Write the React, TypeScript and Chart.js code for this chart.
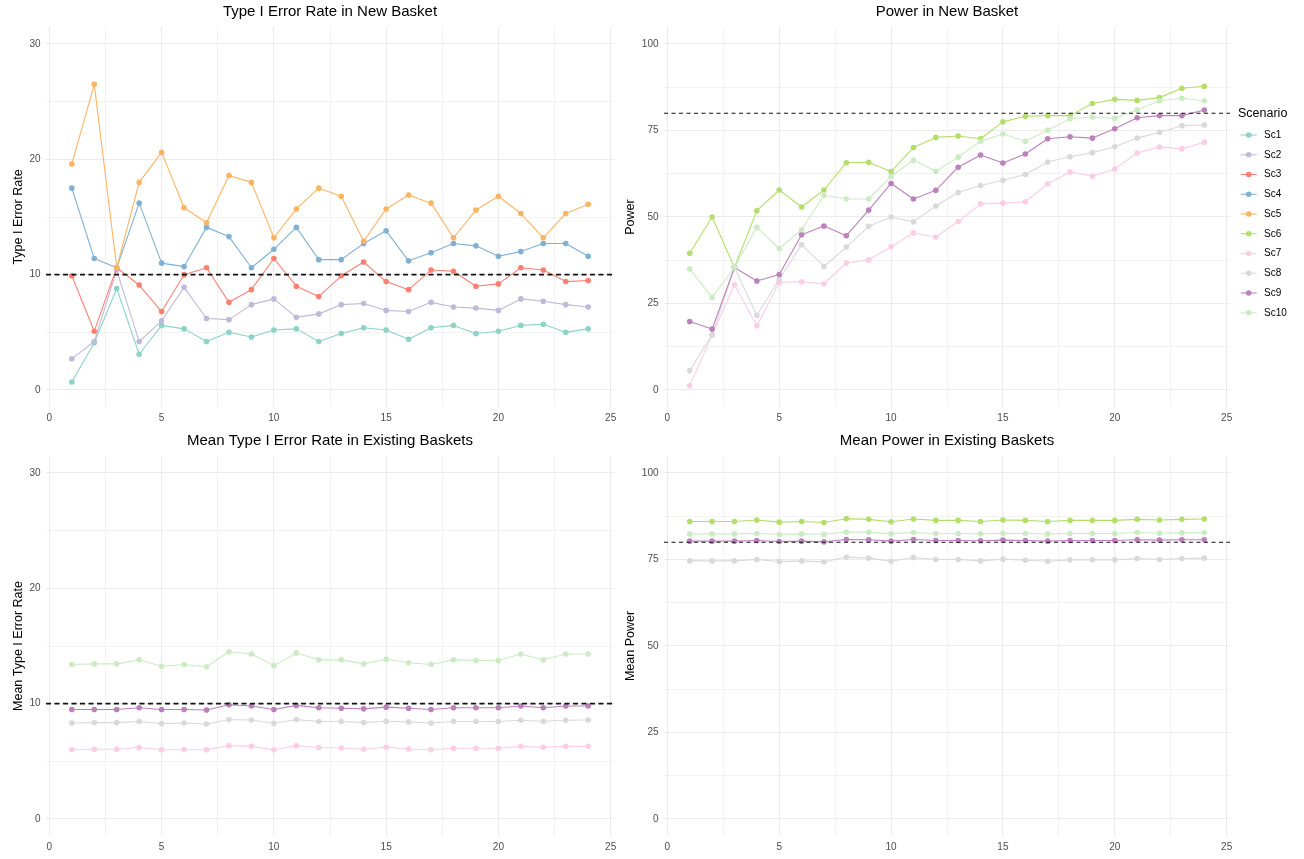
import React, { useEffect, useRef } from 'react';
import { Chart, registerables } from 'chart.js';

Chart.register(...registerables);

const FONT = "'Liberation Sans', Arial, Helvetica, sans-serif";

// ---------- data ----------
const X_VALUES = [1, 2, 3, 4, 5, 6, 7, 8, 9, 10, 11, 12, 13, 14, 15, 16, 17, 18, 19, 20, 21, 22, 23, 24];
const SCENARIOS = ['Sc1', 'Sc2', 'Sc3', 'Sc4', 'Sc5', 'Sc6', 'Sc7', 'Sc8', 'Sc9', 'Sc10'];
const COLORS = ['#8DD3C7', '#BEBADA', '#FB8072', '#80B1D3', '#FDB462', '#B3DE69', '#FCCDE5', '#D9D9D9', '#BC80BD', '#CCEBC5'];

const X_TICKS = [0, 2.5, 5, 7.5, 10, 12.5, 15, 17.5, 20, 22.5, 25];
const TYPE1_TICKS = [0, 5, 10, 15, 20, 25, 30];
const POWER_TICKS = [0, 12.5, 25, 37.5, 50, 62.5, 75, 87.5, 100];

const TYPE1_TARGET = 10;
const POWER_TARGET = 80;

// Type I error rate in new basket (Sc1..Sc5)
const T1_NEW_SC1 = [0.7, 4.1, 8.8, 3.1, 5.6, 5.3, 4.2, 5.0, 4.6, 5.2, 5.3, 4.2, 4.9, 5.4, 5.2, 4.4, 5.4, 5.6, 4.9, 5.1, 5.6, 5.7, 5.0, 5.3];
const T1_NEW_SC2 = [2.7, 4.2, 10.4, 4.2, 6.0, 8.9, 6.2, 6.1, 7.4, 7.9, 6.3, 6.6, 7.4, 7.5, 6.9, 6.8, 7.6, 7.2, 7.1, 6.9, 7.9, 7.7, 7.4, 7.2];
const T1_NEW_SC3 = [9.9, 5.1, 10.6, 9.1, 6.8, 10.0, 10.6, 7.6, 8.7, 11.4, 9.0, 8.1, 9.9, 11.1, 9.4, 8.7, 10.4, 10.3, 9.0, 9.2, 10.6, 10.4, 9.4, 9.5];
const T1_NEW_SC4 = [17.5, 11.4, 10.6, 16.2, 11.0, 10.7, 14.1, 13.3, 10.6, 12.2, 14.1, 11.3, 11.3, 12.7, 13.8, 11.2, 11.9, 12.7, 12.5, 11.6, 12.0, 12.7, 12.7, 11.6];
const T1_NEW_SC5 = [19.6, 26.5, 10.6, 18.0, 20.6, 15.8, 14.5, 18.6, 18.0, 13.2, 15.7, 17.5, 16.8, 12.9, 15.7, 16.9, 16.2, 13.2, 15.6, 16.8, 15.3, 13.2, 15.3, 16.1];

// Power in new basket (Sc6..Sc10)
const PW_NEW_SC6 = [39.5, 50.0, 35.4, 51.8, 57.8, 52.9, 57.8, 65.7, 65.8, 63.1, 70.1, 73.0, 73.4, 72.6, 77.5, 79.1, 79.3, 79.3, 82.8, 84.0, 83.7, 84.5, 87.2, 87.8];
const PW_NEW_SC7 = [1.2, 15.9, 30.4, 18.6, 31.1, 31.3, 30.7, 36.7, 37.6, 41.4, 45.4, 44.2, 48.7, 53.8, 54.0, 54.4, 59.6, 63.0, 61.8, 63.9, 68.5, 70.2, 69.7, 71.6];
const PW_NEW_SC8 = [5.6, 15.9, 35.4, 21.6, 32.0, 42.0, 35.7, 41.3, 47.3, 50.0, 48.6, 53.2, 57.1, 59.1, 60.6, 62.3, 65.9, 67.4, 68.6, 70.3, 72.8, 74.5, 76.4, 76.6];
const PW_NEW_SC9 = [19.8, 17.6, 35.4, 31.5, 33.4, 44.9, 47.4, 44.6, 52.0, 59.7, 55.2, 57.7, 64.4, 67.9, 65.6, 68.2, 72.6, 73.2, 72.8, 75.5, 78.7, 79.3, 79.3, 80.9];
const PW_NEW_SC10 = [35.0, 26.7, 35.4, 47.0, 40.9, 46.3, 56.3, 55.2, 55.2, 61.7, 66.4, 63.2, 67.3, 71.9, 74.0, 71.9, 75.1, 78.4, 78.9, 78.5, 80.9, 83.6, 84.3, 83.6];

// Mean type I error rate in existing baskets
const T1_EX_SC7 = [6.02, 6.05, 6.05, 6.2, 6.0, 6.02, 6.0, 6.36, 6.3, 6.0, 6.36, 6.2, 6.16, 6.05, 6.22, 6.07, 6.0, 6.13, 6.13, 6.13, 6.3, 6.22, 6.3, 6.3];
const T1_EX_SC8 = [8.33, 8.36, 8.36, 8.45, 8.27, 8.33, 8.24, 8.62, 8.59, 8.3, 8.62, 8.45, 8.45, 8.36, 8.48, 8.42, 8.33, 8.45, 8.45, 8.45, 8.56, 8.48, 8.56, 8.59];
const T1_EX_SC9 = [9.5, 9.5, 9.5, 9.65, 9.5, 9.5, 9.45, 9.9, 9.8, 9.5, 9.85, 9.65, 9.6, 9.55, 9.7, 9.6, 9.5, 9.65, 9.65, 9.65, 9.8, 9.65, 9.8, 9.8];
const T1_EX_SC10 = [13.4, 13.45, 13.45, 13.8, 13.25, 13.4, 13.2, 14.5, 14.3, 13.3, 14.4, 13.8, 13.8, 13.45, 13.85, 13.55, 13.4, 13.8, 13.75, 13.75, 14.3, 13.8, 14.3, 14.3];

// Mean power in existing baskets
const PW_EX_SC6 = [86.0, 86.0, 86.0, 86.4, 85.8, 86.0, 85.7, 86.8, 86.6, 85.9, 86.7, 86.3, 86.3, 86.0, 86.4, 86.3, 86.0, 86.3, 86.3, 86.3, 86.6, 86.4, 86.6, 86.7];
const PW_EX_SC8 = [74.6, 74.6, 74.6, 75.0, 74.4, 74.6, 74.3, 75.7, 75.4, 74.5, 75.6, 75.0, 75.0, 74.6, 75.1, 74.8, 74.5, 74.9, 74.9, 74.9, 75.3, 75.0, 75.3, 75.4];
const PW_EX_SC9 = [80.3, 80.3, 80.3, 80.5, 80.2, 80.3, 80.1, 80.8, 80.7, 80.3, 80.8, 80.5, 80.5, 80.4, 80.6, 80.5, 80.3, 80.5, 80.5, 80.5, 80.7, 80.6, 80.7, 80.7];
const PW_EX_SC10 = [82.4, 82.4, 82.4, 82.5, 82.3, 82.4, 82.3, 82.9, 82.9, 82.4, 82.8, 82.5, 82.5, 82.4, 82.6, 82.5, 82.4, 82.5, 82.5, 82.5, 82.8, 82.6, 82.7, 82.8];

// ---------- panels ----------
type Series = { idx: number; data: number[] };
type Panel = {
  title: string; yTitle: string; yMin: number; yMax: number; yTicks: number[]; labelEvery: number;
  target: number; series: Series[];
  left: number; top: number; w: number; h: number;
  yAxisW: number; padRight: number; xAxisH: number; yTitlePad: number; legend: boolean; titleY: number;
  refWidth: number; refDash: number[];
};

const PANELS: Panel[] = [
  {
    title: 'Type I Error Rate in New Basket', yTitle: 'Type I Error Rate', yMin: -1.5, yMax: 31.5,
    yTicks: TYPE1_TICKS, labelEvery: 10, target: TYPE1_TARGET,
    series: [
      { idx: 0, data: T1_NEW_SC1 }, { idx: 1, data: T1_NEW_SC2 }, { idx: 2, data: T1_NEW_SC3 },
      { idx: 3, data: T1_NEW_SC4 }, { idx: 4, data: T1_NEW_SC5 },
    ],
    left: 0, top: 0, w: 622, h: 429, yAxisW: 46, padRight: 8, xAxisH: 21.7, yTitlePad: 11.5, legend: false, titleY: 12.3,
    refWidth: 1.6, refDash: [5, 3.5],
  },
  {
    title: 'Power in New Basket', yTitle: 'Power', yMin: -5, yMax: 105,
    yTicks: POWER_TICKS, labelEvery: 25, target: POWER_TARGET,
    series: [
      { idx: 5, data: PW_NEW_SC6 }, { idx: 6, data: PW_NEW_SC7 }, { idx: 7, data: PW_NEW_SC8 },
      { idx: 8, data: PW_NEW_SC9 }, { idx: 9, data: PW_NEW_SC10 },
    ],
    left: 622, top: 0, w: 682, h: 429, yAxisW: 42, padRight: 74, xAxisH: 21.7, yTitlePad: 1.5, legend: true, titleY: 12.3,
    refWidth: 1.1, refDash: [4, 3.5],
  },
  {
    title: 'Mean Type I Error Rate in Existing Baskets', yTitle: 'Mean Type I Error Rate', yMin: -1.5, yMax: 31.5,
    yTicks: TYPE1_TICKS, labelEvery: 10, target: TYPE1_TARGET,
    series: [
      { idx: 6, data: T1_EX_SC7 }, { idx: 7, data: T1_EX_SC8 }, { idx: 8, data: T1_EX_SC9 }, { idx: 9, data: T1_EX_SC10 },
    ],
    left: 0, top: 429, w: 622, h: 430, yAxisW: 46, padRight: 8, xAxisH: 22.7, yTitlePad: 11.5, legend: false, titleY: 11.8,
    refWidth: 1.6, refDash: [5, 3.5],
  },
  {
    title: 'Mean Power in Existing Baskets', yTitle: 'Mean Power', yMin: -5, yMax: 105,
    yTicks: POWER_TICKS, labelEvery: 25, target: POWER_TARGET,
    series: [
      { idx: 5, data: PW_EX_SC6 }, { idx: 7, data: PW_EX_SC8 }, { idx: 8, data: PW_EX_SC9 }, { idx: 9, data: PW_EX_SC10 },
    ],
    left: 622, top: 429, w: 682, h: 430, yAxisW: 42, padRight: 74, xAxisH: 22.7, yTitlePad: 1.5, legend: false, titleY: 11.8,
    refWidth: 1.1, refDash: [4, 3.5],
  },
];

// ---------- plugins ----------
const refLinePlugin = {
  id: 'refLine',
  afterDatasetsDraw(chart: any, _args: any, opts: any) {
    const { ctx, chartArea } = chart;
    const y = chart.scales.y.getPixelForValue(opts.value);
    ctx.save();
    ctx.beginPath();
    ctx.setLineDash(opts.dash);
    ctx.strokeStyle = '#111111';
    ctx.lineWidth = opts.width;
    ctx.moveTo(chartArea.left, y);
    ctx.lineTo(chartArea.right, y);
    ctx.stroke();
    ctx.restore();
  },
};

// panel title centred over the plotting panel (like ggplot)
const panelTitlePlugin = {
  id: 'panelTitle',
  afterDraw(chart: any, _args: any, opts: any) {
    const { ctx, chartArea } = chart;
    ctx.save();
    ctx.fillStyle = '#000000';
    ctx.textAlign = 'center';
    ctx.textBaseline = 'middle';
    ctx.font = `15px ${FONT}`;
    ctx.fillText(opts.text, (chartArea.left + chartArea.right) / 2, opts.y);
    ctx.restore();
  },
};

const legendPlugin = {
  id: 'scenarioLegend',
  afterDraw(chart: any, _args: any, opts: any) {
    if (!opts || !opts.show) return;
    const { ctx, chartArea } = chart;
    const x0 = chartArea.right + 8;
    ctx.save();
    ctx.fillStyle = '#000000';
    ctx.textBaseline = 'middle';
    ctx.textAlign = 'left';
    ctx.font = `12.5px ${FONT}`;
    ctx.fillText('Scenario', x0, 114);
    ctx.font = `10px ${FONT}`;
    SCENARIOS.forEach((name, i) => {
      const y = 135 + i * 19.75;
      ctx.strokeStyle = COLORS[i];
      ctx.lineWidth = 1.1;
      ctx.beginPath();
      ctx.moveTo(x0 + 2.7, y);
      ctx.lineTo(x0 + 18.7, y);
      ctx.stroke();
      ctx.fillStyle = COLORS[i];
      ctx.beginPath();
      ctx.arc(x0 + 10.7, y, 2.8, 0, Math.PI * 2);
      ctx.fill();
      ctx.fillStyle = '#000000';
      ctx.fillText(name, x0 + 26, y);
    });
    ctx.restore();
  },
};

function makeChart(canvas: HTMLCanvasElement, p: Panel) {
  const isMajorX = (v: number) => v % 5 === 0;
  const isMajorY = (v: number) => v % p.labelEvery === 0;
  return new Chart(canvas, {
    type: 'line',
    data: {
      datasets: p.series.map((s) => ({
        label: SCENARIOS[s.idx],
        data: X_VALUES.map((x, i) => ({ x, y: s.data[i] })),
        borderColor: COLORS[s.idx],
        backgroundColor: COLORS[s.idx],
        pointBackgroundColor: COLORS[s.idx],
        pointBorderWidth: 0,
        pointRadius: 2.8,
        pointHoverRadius: 2.8,
        borderWidth: 1.1,
        borderJoinStyle: 'round',
        tension: 0,
        fill: false,
        order: 10 - s.idx,
      })),
    },
    options: {
      animation: false,
      responsive: false,
      maintainAspectRatio: false,
      events: [],
      layout: { padding: { left: 0, right: p.padRight, top: 26.7, bottom: 0 } },
      plugins: {
        legend: { display: false },
        tooltip: { enabled: false },
        title: { display: false },
        panelTitle: { text: p.title, y: p.titleY },
        refLine: { value: p.target, width: p.refWidth, dash: p.refDash },
        scenarioLegend: { show: p.legend },
      } as any,
      scales: {
        x: {
          type: 'linear',
          min: -0.15,
          max: 25.15,
          afterBuildTicks: (scale: any) => { scale.ticks = X_TICKS.map((v) => ({ value: v })); },
          afterFit: (scale: any) => { scale.height = p.xAxisH; },
          ticks: {
            autoSkip: false,
            maxRotation: 0,
            padding: 5,
            color: '#4D4D4D',
            font: { family: FONT, size: 10 },
            callback: (v: any) => (isMajorX(Number(v)) ? String(v) : ''),
          },
          grid: {
            drawTicks: false,
            color: (ctx: any) => (ctx.tick && isMajorX(ctx.tick.value) ? '#EBEBEB' : '#EFEFEF'),
            lineWidth: (ctx: any) => (ctx.tick && isMajorX(ctx.tick.value) ? 1.1 : 0.8),
          },
          border: { display: false },
        },
        y: {
          type: 'linear',
          min: p.yMin,
          max: p.yMax,
          afterBuildTicks: (scale: any) => { scale.ticks = p.yTicks.map((v) => ({ value: v })); },
          afterFit: (scale: any) => { scale.width = p.yAxisW; },
          ticks: {
            autoSkip: false,
            padding: 5.5,
            color: '#4D4D4D',
            font: { family: FONT, size: 10 },
            callback: (v: any) => (isMajorY(Number(v)) ? String(v) : ''),
          },
          grid: {
            drawTicks: false,
            color: (ctx: any) => (ctx.tick && isMajorY(ctx.tick.value) ? '#EBEBEB' : '#EFEFEF'),
            lineWidth: (ctx: any) => (ctx.tick && isMajorY(ctx.tick.value) ? 1.1 : 0.8),
          },
          border: { display: false },
          title: {
            display: true,
            text: p.yTitle,
            color: '#000000',
            font: { family: FONT, size: 12.5 },
            padding: { top: p.yTitlePad, bottom: 0 },
          },
        },
      },
    } as any,
    plugins: [refLinePlugin, panelTitlePlugin, legendPlugin],
  });
}

export default function App() {
  const canvases = useRef<(HTMLCanvasElement | null)[]>([]);

  useEffect(() => {
    const charts = PANELS.map((p, i) => makeChart(canvases.current[i] as HTMLCanvasElement, p));
    return () => charts.forEach((c) => c.destroy());
  }, []);

  return (
    <div style={{ position: 'fixed', left: 0, top: 0, width: 1304, height: 859, background: '#ffffff' }}>
      {PANELS.map((p, i) => (
        <canvas
          key={i}
          ref={(el) => { canvases.current[i] = el; }}
          width={p.w}
          height={p.h}
          style={{ position: 'absolute', left: p.left, top: p.top, width: p.w, height: p.h }}
        />
      ))}
    </div>
  );
}
